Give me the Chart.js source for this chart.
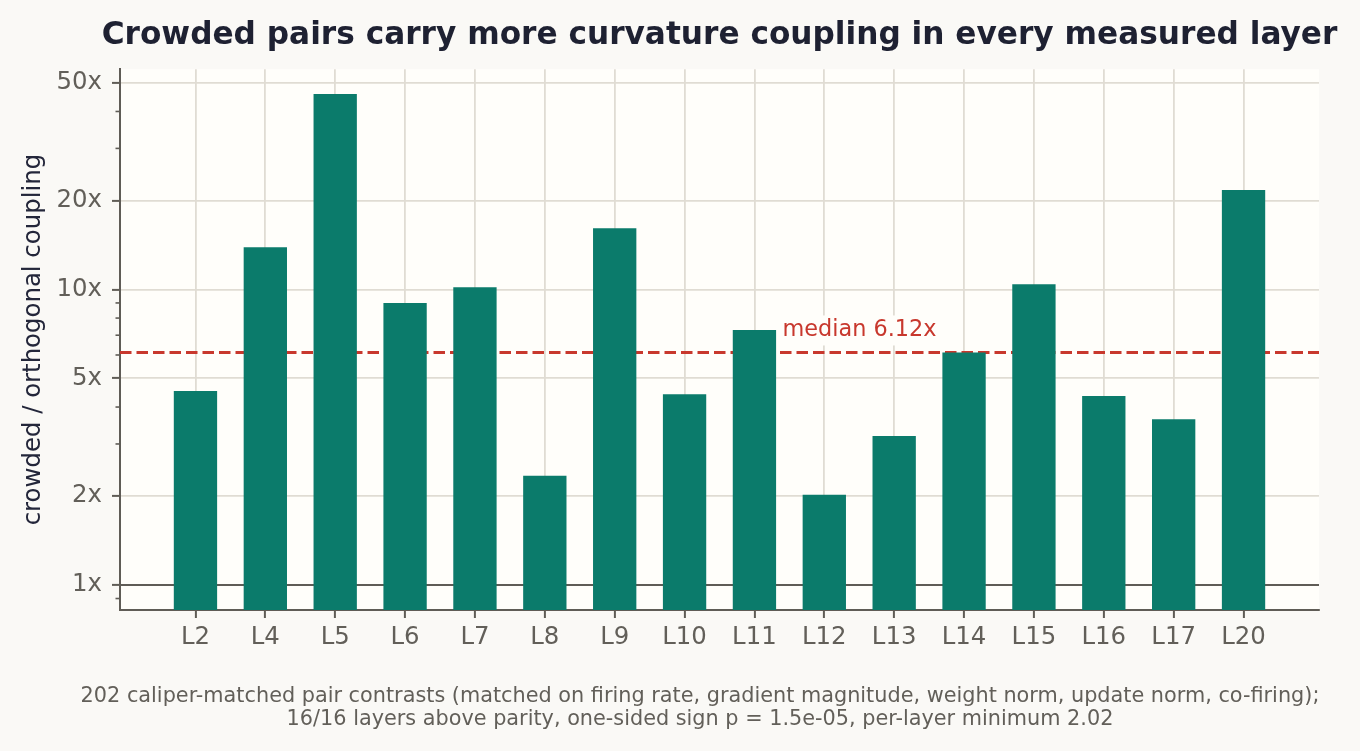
<!DOCTYPE html>
<html>
<head>
<meta charset="utf-8">
<script src="https://cdn.jsdelivr.net/npm/chart.js@4.4.1/dist/chart.umd.min.js"></script>
<style>
  html, body { margin: 0; padding: 0; background: #faf9f6; }
  #wrap { width: 1360px; height: 751px; position: relative; }
</style>
</head>
<body>
<div id="wrap"><canvas id="chart"></canvas></div>
<script>
// data
const layers = ['L2', 'L4', 'L5', 'L6', 'L7', 'L8', 'L9', 'L10', 'L11', 'L12', 'L13', 'L14', 'L15', 'L16', 'L17', 'L20'];
const ratios = [4.53, 13.9, 45.8, 8.99, 10.18, 2.34, 16.1, 4.42, 7.29, 2.02, 3.19, 6.12, 10.42, 4.36, 3.64, 21.7];
const median = 6.12;
const majorTicks = [1, 2, 5, 10, 20, 50];
const minorTicks = [0.9, 3, 4, 6, 7, 8, 9, 30, 40];
const xRange = [-1.08, 16.08];
const yRange = [0.823, 55.6];

const title = 'Crowded pairs carry more curvature coupling in every measured layer';
const yTitle = 'crowded / orthogonal coupling';
const footer = [
    '202 caliper-matched pair contrasts (matched on firing rate, gradient magnitude, weight norm, update norm, co-firing);',
    '16/16 layers above parity, one-sided sign p = 1.5e-05, per-layer minimum 2.02'
];

const BAR   = '#0b7b6b';
const AXIS  = '#5f5c56';
const GRID  = '#e0dcd3';
const TEXT  = '#625f59';
const RED   = '#c8382d';
const PLOT  = '#fffefa';

Chart.defaults.font.family = "'DejaVu Sans', sans-serif";

// plot area background
const plotBg = {
    id: 'plotBg',
    beforeDraw(chart) {
        const { ctx, chartArea: a } = chart;
        ctx.save();
        ctx.fillStyle = PLOT;
        ctx.fillRect(a.left, a.top, a.right - a.left, a.bottom - a.top);
        ctx.restore();
    }
};

// short minor ticks on the log axis
const minorMarks = {
    id: 'minorMarks',
    afterDraw(chart) {
        const { ctx, chartArea: a, scales: { y } } = chart;
        ctx.save();
        ctx.strokeStyle = AXIS;
        ctx.lineWidth = 1.6;
        minorTicks.forEach(v => {
            const py = y.getPixelForValue(v);
            ctx.beginPath();
            ctx.moveTo(a.left - 4.5, py);
            ctx.lineTo(a.left, py);
            ctx.stroke();
        });
        ctx.restore();
    }
};

// "median 6.12x" label with a box that hides the grid
const medianLabel = {
    id: 'medianLabel',
    afterDatasetsDraw(chart) {
        const { ctx, scales: { x, y } } = chart;
        const txt = `median ${median.toFixed(2)}x`;
        const px = x.getPixelForValue(8.40);
        const py = y.getPixelForValue(median) - 22;
        ctx.save();
        ctx.font = "22.4px 'DejaVu Sans'";
        const w = ctx.measureText(txt).width;
        ctx.fillStyle = PLOT;
        ctx.fillRect(px - 4, py - 15, w + 8, 30);
        ctx.fillStyle = RED;
        ctx.textAlign = 'left';
        ctx.textBaseline = 'middle';
        ctx.fillText(txt, px, py);
        ctx.restore();
    }
};

// title over the plot area, and the two-line note under the axis
const texts = {
    id: 'texts',
    afterDraw(chart) {
        const { ctx, chartArea: a } = chart;
        ctx.save();
        ctx.textAlign = 'center';
        ctx.textBaseline = 'middle';
        ctx.font = "bold 31.2px 'DejaVu Sans'";
        ctx.fillStyle = '#1e2132';
        ctx.fillText(title, (a.left + a.right) / 2, 35.5);
        ctx.font = "20.8px 'DejaVu Sans'";
        ctx.fillStyle = TEXT;
        footer.forEach((line, i) => ctx.fillText(line, 700, 697 + i * 23));
        ctx.restore();
    }
};

const hline = (value, color, width, dash, order) => ({
    type: 'line',
    data: [{ x: xRange[0], y: value }, { x: xRange[1], y: value }],
    borderColor: color,
    borderWidth: width,
    borderDash: dash,
    pointRadius: 0,
    order: order
});

new Chart(document.getElementById('chart').getContext('2d'), {
    data: {
        datasets: [
            {
                type: 'bar',
                data: ratios.map((v, i) => ({ x: i, y: v })),
                backgroundColor: BAR,
                borderWidth: 0,
                barPercentage: 0.62,
                categoryPercentage: 1,
                order: 1
            },
            hline(median, RED, 3, [11.5, 5], 2),
            hline(1, AXIS, 2, [], 3)
        ]
    },
    options: {
        responsive: true, maintainAspectRatio: false,
        animation: false,
        layout: { padding: { top: 69.2, right: 41, bottom: 0, left: 0 } },
        plugins: {
            legend: { display: false },
            tooltip: { enabled: false },
            title: { display: false }
        },
        scales: {
            x: {
                type: 'linear', min: xRange[0], max: xRange[1], bounds: 'data', offset: false,
                afterBuildTicks: s => { s.ticks = layers.map((_, i) => ({ value: i })); },
                afterFit: s => { s.height = 141; },
                ticks: { color: TEXT, font: { size: 24.4 }, padding: 5, autoSkip: false, maxRotation: 0,
                         callback: v => layers[v] },
                grid: { offset: false, color: GRID, lineWidth: 1.8, tickColor: AXIS, tickWidth: 2, tickLength: 8 },
                border: { color: AXIS, width: 2 }
            },
            y: {
                type: 'logarithmic', min: yRange[0], max: yRange[1], bounds: 'data',
                afterBuildTicks: s => { s.ticks = majorTicks.map(v => ({ value: v })); },
                afterFit: s => { s.width = 120; },
                ticks: { color: TEXT, font: { size: 24.4 }, padding: 10, callback: v => `${v}x` },
                grid: { color: GRID, lineWidth: 1.8, tickColor: AXIS, tickWidth: 2, tickLength: 8 },
                border: { color: AXIS, width: 2 },
                title: { display: true, text: yTitle, color: '#23263a', font: { size: 24.4 }, padding: { top: 19, bottom: 0 } }
            }
        }
    },
    plugins: [plotBg, minorMarks, medianLabel, texts]
});
</script>
</body>
</html>
